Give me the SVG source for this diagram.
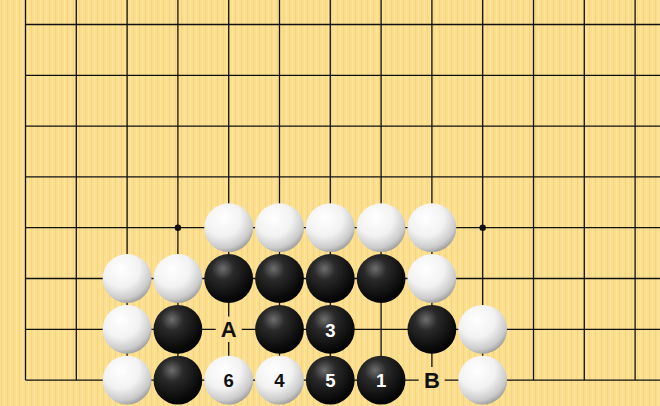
<svg xmlns="http://www.w3.org/2000/svg" width="660" height="406" viewBox="0 0 660 406">
<defs>
<pattern id="wood" width="6" height="10" patternUnits="userSpaceOnUse">
<rect width="6" height="10" fill="#FBDF8E"/>
<rect x="1" width="1" height="10" fill="#F6D27A" opacity="0.7"/>
<rect x="4" width="1" height="10" fill="#FFE9A6" opacity="0.7"/>
</pattern>
<radialGradient id="gw" cx="0.38" cy="0.3" r="0.75">
<stop offset="0" stop-color="#ffffff"/>
<stop offset="0.5" stop-color="#f2f2f2"/>
<stop offset="0.82" stop-color="#cbcbcb"/>
<stop offset="1" stop-color="#959595"/>
</radialGradient>
<radialGradient id="gb" cx="0.38" cy="0.3" r="0.75">
<stop offset="0" stop-color="#6e6e6e"/>
<stop offset="0.3" stop-color="#2a2a2a"/>
<stop offset="0.8" stop-color="#0a0a0a"/>
<stop offset="1" stop-color="#000000"/>
</radialGradient>
<style>
.ln{stroke:#111;stroke-width:1.3;fill:none}
.w{fill:url(#gw)}
.b{fill:url(#gb)}
.t{font-family:"Liberation Sans",Arial,sans-serif;font-weight:bold;font-size:18.5px;text-anchor:middle}
.L{font-size:22px}
.tw{fill:#fff}
.tb{fill:#111}
</style>
</defs>
<rect width="660" height="406" fill="url(#wood)"/>
<g id="grid" class="ln">
<path d="M25.5 24.5H660M25.5 75.3H660M25.5 126.1H660M25.5 176.9H660M25.5 227.7H660M25.5 278.5H660M25.5 329.3H660M25.5 380.1H660"/>
<path d="M25.5 0V380.1M76.3 0V380.1M127.1 0V380.1M177.9 0V380.1M228.7 0V380.1M279.5 0V380.1M330.3 0V380.1M381.1 0V380.1M431.9 0V380.1M482.7 0V380.1M533.5 0V380.1M584.3 0V380.1M635.1 0V380.1"/>
</g>
<g id="stars" fill="#111">
<circle cx="177.9" cy="227.7" r="3.2"/>
<circle cx="482.7" cy="227.7" r="3.2"/>
</g>
<g id="labels-board">
<rect x="215.7" y="316.5" width="26" height="25.5" fill="url(#wood)"/>
<text class="t L tb" x="228.7" y="337.3">A</text>
<rect x="418.7" y="367" width="26" height="26" fill="url(#wood)"/>
<text class="t L tb" x="431.9" y="388">B</text>
</g>
<g id="stones">
<circle class="w" cx="228.7" cy="227.7" r="24.4"/>
<circle class="w" cx="279.5" cy="227.7" r="24.4"/>
<circle class="w" cx="330.3" cy="227.7" r="24.4"/>
<circle class="w" cx="381.1" cy="227.7" r="24.4"/>
<circle class="w" cx="431.9" cy="227.7" r="24.4"/>
<circle class="w" cx="127.1" cy="278.5" r="24.4"/>
<circle class="w" cx="177.9" cy="278.5" r="24.4"/>
<circle class="b" cx="228.7" cy="278.5" r="24.4"/>
<circle class="b" cx="279.5" cy="278.5" r="24.4"/>
<circle class="b" cx="330.3" cy="278.5" r="24.4"/>
<circle class="b" cx="381.1" cy="278.5" r="24.4"/>
<circle class="w" cx="431.9" cy="278.5" r="24.4"/>
<circle class="w" cx="127.1" cy="329.3" r="24.4"/>
<circle class="b" cx="177.9" cy="329.3" r="24.4"/>
<circle class="b" cx="279.5" cy="329.3" r="24.4"/>
<circle class="b" cx="330.3" cy="329.3" r="24.4"/>
<circle class="b" cx="431.9" cy="329.3" r="24.4"/>
<circle class="w" cx="482.7" cy="329.3" r="24.4"/>
<circle class="w" cx="127.1" cy="380.1" r="24.4"/>
<circle class="b" cx="177.9" cy="380.1" r="24.4"/>
<circle class="w" cx="228.7" cy="380.1" r="24.4"/>
<circle class="w" cx="279.5" cy="380.1" r="24.4"/>
<circle class="b" cx="330.3" cy="380.1" r="24.4"/>
<circle class="b" cx="381.1" cy="380.1" r="24.4"/>
<circle class="w" cx="482.7" cy="380.1" r="24.4"/>
</g>
<g id="numbers">
<text class="t tw" x="330.3" y="336.5">3</text>
<text class="t tb" x="228.7" y="387.3">6</text>
<text class="t tb" x="279.5" y="387.3">4</text>
<text class="t tw" x="330.3" y="387.3">5</text>
<text class="t tw" x="381.1" y="387.3">1</text>
</g>
</svg>
